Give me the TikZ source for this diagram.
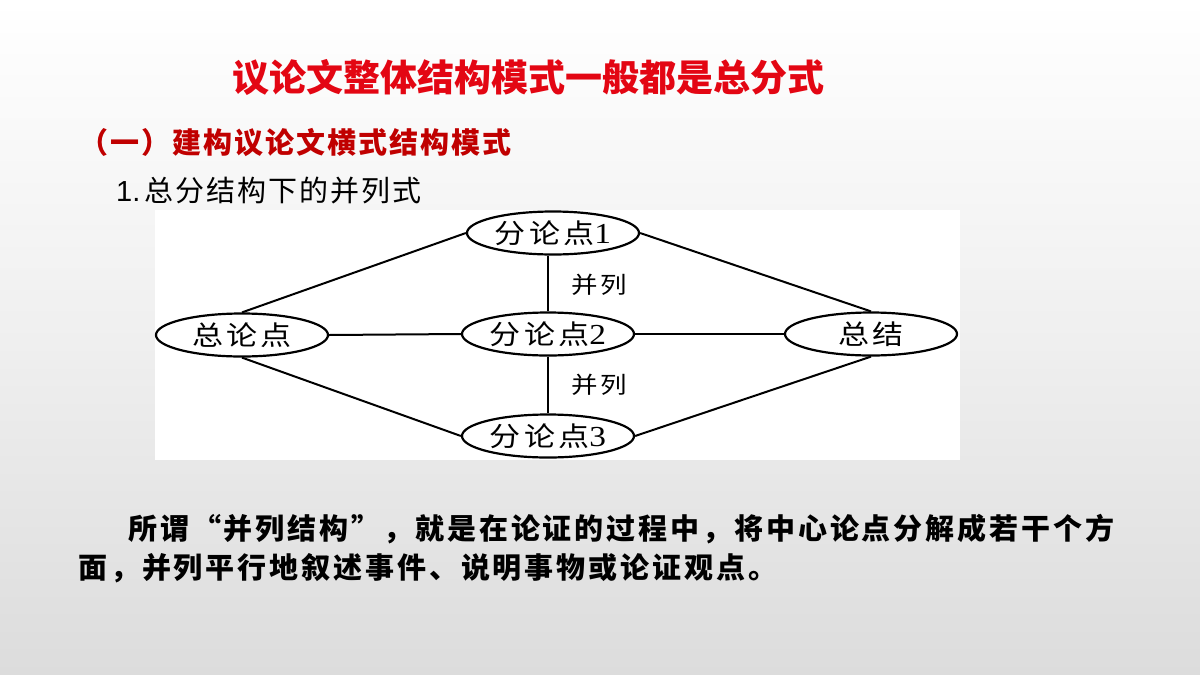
\documentclass[tikz,border=0pt]{standalone}
\usepackage{fontspec}
\usetikzlibrary{shapes.geometric}
\newfontfamily\cjktitle[LetterSpace=0]{Noto Sans CJK SC}
\newfontfamily\cjksub[LetterSpace=7]{Noto Sans CJK SC}
\newfontfamily\cjkpara[LetterSpace=10]{Noto Sans CJK SC}
\newfontfamily\cjkdia[FakeStretch=1.15,LetterSpace=12]{Noto Sans CJK SC}
\newfontfamily\digdia[FakeStretch=1.15]{Liberation Serif}
\newfontfamily\latsans{Liberation Sans}
\definecolor{titlered}{HTML}{E30613}
\definecolor{subred}{HTML}{C00000}
\definecolor{bgbottom}{HTML}{DCDCDC}
\tikzset{
  oval/.style={ellipse, draw=black, line width=2.2pt, fill=white, minimum width=172pt, minimum height=43pt, inner sep=0pt,
    font=\fontsize{27}{30}\selectfont\cjkdia},
  link/.style={draw=black, line width=2pt},
  rel/.style={inner sep=0pt, font=\fontsize{23}{26}\selectfont\cjkdia}
}
\newcommand{\dg}[1]{{\fontsize{29}{30}\selectfont\digdia #1}}
\begin{document}
\begin{tikzpicture}[x=1pt,y=-1pt]
\useasboundingbox (0,0) rectangle (1200,675);
\shade[top color=white, bottom color=bgbottom, middle color=white!55!bgbottom] (0,0) rectangle (1200,675);
% title
\node[inner sep=0pt, text=titlered, font=\fontsize{37}{40}\selectfont\cjktitle\bfseries] (title) at (528,77) {议论文整体结构模式一般都是总分式};
\node[inner sep=0pt, anchor=west, text=subred, font=\fontsize{29}{32}\selectfont\cjksub\bfseries] (sub) at (79,143) {（一）建构议论文横式结构模式};
\node[inner sep=0pt, anchor=west, text=black, font=\fontsize{29}{32}\selectfont\cjksub] (item) at (116,191) {{\latsans 1.}\hspace{4pt}总分结构下的并列式};
% diagram panel
\fill[white] (155,210) rectangle (960,460);
\node[oval] (zl) at (242,335) {总论点\hspace{-3pt}};
\node[oval] (f1) at (553,233) {分论点\dg{1}};
\node[oval] (f2) at (548,334) {分论点\dg{2}};
\node[oval] (f3) at (548,436) {分论点\dg{3}};
\node[oval] (zj) at (871,334) {总结\hspace{-3pt}};
\path[link] (zl.north) -- (f1.west);
\path[link] (zl.south) -- (f3.west);
\path[link] (f1.east) -- (zj.north);
\path[link] (f3.east) -- (zj.south);
\path[link] (zl.east) -- (f2.west);
\path[link] (f2.east) -- (zj.west);
\path[link] (f2.north) -- (f2.north |- f1.south);
\path[link] (f2.south) -- (f3.north);
\node[rel] (r1) at (599,285) {并列\hspace{-3pt}};
\node[rel] (r2) at (599,385) {并列\hspace{-3pt}};
% paragraph
\node[inner sep=0pt, anchor=west, font=\fontsize{29}{32}\selectfont\cjkpara\bfseries] (p1) at (128,529) {所谓“并列结构”，就是在论证的过程中，将中心论点分解成若干个方};
\node[inner sep=0pt, anchor=west, font=\fontsize{29}{32}\selectfont\cjkpara\bfseries] (p2) at (78,568) {面，并列平行地叙述事件、说明事物或论证观点。};
\end{tikzpicture}
\end{document}
